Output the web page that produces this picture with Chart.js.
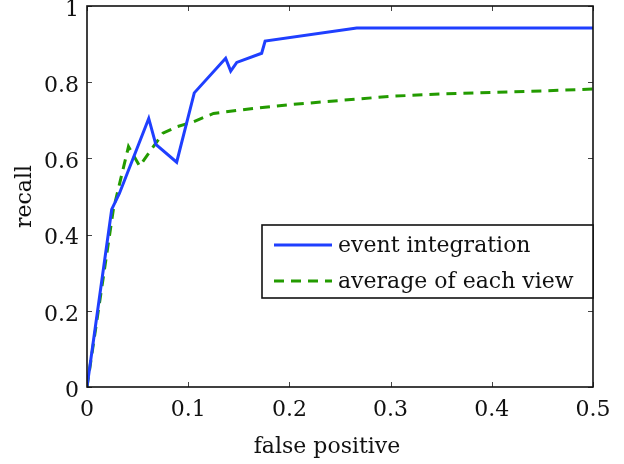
<!DOCTYPE html>
<html>
<head>
<meta charset="utf-8">
<script src="https://cdn.jsdelivr.net/npm/chart.js@4/dist/chart.umd.min.js"></script>
<style>
  html, body { margin: 0; padding: 0; background: #fff; }
  #wrap { width: 624px; height: 464px; }
</style>
</head>
<body>
<div id="wrap"><canvas id="c" width="624" height="464"></canvas></div>
<script>
// ---- data ----
const seriesNames = ['event integration', 'average of each view'];
const eventX = [0, 0.0244, 0.032, 0.061, 0.068, 0.0886, 0.106, 0.137, 0.142, 0.148, 0.1726, 0.176, 0.2665, 0.5];
const eventY = [0, 0.466, 0.508, 0.705, 0.637, 0.590, 0.772, 0.863, 0.829, 0.852, 0.876, 0.908, 0.942, 0.942];
const avgX = [0, 0.026, 0.041, 0.052, 0.075, 0.0886, 0.105, 0.125, 0.158, 0.2, 0.25, 0.3, 0.35, 0.4, 0.45, 0.5];
const avgY = [0, 0.465, 0.631, 0.580, 0.666, 0.683, 0.696, 0.718, 0.729, 0.741, 0.752, 0.763, 0.769, 0.773, 0.777, 0.782];
const xTickLabels = ['0', '0.1', '0.2', '0.3', '0.4', '0.5'];
const yTickLabels = ['0', '0.2', '0.4', '0.6', '0.8', '1'];
const xTitle = 'false positive';
const yTitle = 'recall';

const FONT = 'DejaVu Serif';
const blue = '#1f3fff';
const green = '#239b00';

const toPts = (xs, ys) => xs.map((x, i) => ({ x: x, y: ys[i] }));

const framePlugin = {
  id: 'frame',
  afterDatasetsDraw(chart) {
    const { ctx, chartArea: a, scales } = chart;
    ctx.save();
    ctx.strokeStyle = '#444';
    ctx.lineWidth = 1;
    const tl = 5;
    scales.x.ticks.forEach(t => {
      const px = Math.round(scales.x.getPixelForValue(t.value)) + 0.5;
      ctx.beginPath();
      ctx.moveTo(px, a.bottom); ctx.lineTo(px, a.bottom - tl);
      ctx.moveTo(px, a.top); ctx.lineTo(px, a.top + tl);
      ctx.stroke();
    });
    scales.y.ticks.forEach(t => {
      const py = Math.round(scales.y.getPixelForValue(t.value)) + 0.5;
      ctx.beginPath();
      ctx.moveTo(a.left, py); ctx.lineTo(a.left + tl, py);
      ctx.moveTo(a.right, py); ctx.lineTo(a.right - tl, py);
      ctx.stroke();
    });
    ctx.strokeStyle = '#111';
    ctx.lineWidth = 1.6;
    ctx.strokeRect(a.left, a.top, a.right - a.left, a.bottom - a.top);

    // y tick labels (drawn slightly below the tick, as in the reference)
    ctx.font = '22px "' + FONT + '"';
    ctx.fillStyle = '#111';
    ctx.textAlign = 'right';
    ctx.textBaseline = 'middle';
    scales.y.ticks.forEach((t, i) => {
      ctx.fillText(yTickLabels[i], a.left - 8, scales.y.getPixelForValue(t.value) + 4);
    });
    // x axis title
    ctx.textAlign = 'center';
    ctx.fillText(xTitle, (a.left + a.right) / 2 - 13, a.bottom + 60);
    ctx.restore();
  }
};

const legendPlugin = {
  id: 'boxLegend',
  afterDraw(chart) {
    const { ctx, chartArea: a } = chart;
    const left = a.left + 175, right = a.right, top = a.top + 219, bottom = a.top + 292;
    ctx.save();
    ctx.fillStyle = '#fff';
    ctx.fillRect(left, top, right - left, bottom - top);
    ctx.strokeStyle = '#111';
    ctx.lineWidth = 1.6;
    ctx.strokeRect(left, top, right - left, bottom - top);
    ctx.font = '22px "' + FONT + '"';
    ctx.textBaseline = 'middle';
    ctx.fillStyle = '#111';
    chart.data.datasets.forEach((ds, i) => {
      const y = top + 20 + i * 36;
      ctx.beginPath();
      ctx.strokeStyle = ds.borderColor;
      ctx.lineWidth = ds.borderWidth;
      ctx.setLineDash(ds.borderDash || []);
      ctx.moveTo(left + 12, y); ctx.lineTo(left + 70, y);
      ctx.stroke();
      ctx.setLineDash([]);
      ctx.fillText(ds.label, left + 76, y + 1);
    });
    ctx.restore();
  }
};

new Chart(document.getElementById('c'), {
  type: 'scatter',
  data: {
    datasets: [
      { label: seriesNames[0], data: toPts(eventX, eventY), showLine: true, borderColor: blue, backgroundColor: blue,
        borderWidth: 3, pointRadius: 0, tension: 0 },
      { label: seriesNames[1], data: toPts(avgX, avgY), showLine: true, borderColor: green, backgroundColor: green,
        borderWidth: 3, borderDash: [10, 7], pointRadius: 0, tension: 0 }
    ]
  },
  options: {
    responsive: false,
    animation: false,
    devicePixelRatio: 1,
    layout: { padding: { left: 0, top: 6, right: 31, bottom: 0 } },
    plugins: { legend: { display: false }, tooltip: { enabled: false } },
    scales: {
      x: {
        type: 'linear', min: 0, max: 0.5,
        grid: { display: false, drawTicks: false },
        border: { display: false },
        ticks: { stepSize: 0.1, color: '#111', padding: 10, maxRotation: 0,
          font: { family: FONT, size: 22 },
          callback: (v, i) => xTickLabels[i] },
        title: { display: false },
        afterFit: s => { s.height = 77; s.paddingLeft = 0; s.paddingRight = 0; }
      },
      y: {
        type: 'linear', min: 0, max: 1,
        grid: { display: false, drawTicks: false },
        border: { display: false },
        ticks: { stepSize: 0.2, display: false },
        title: { display: true, text: yTitle, color: '#111', font: { family: FONT, size: 22 },
          padding: { top: 12, bottom: 0 } },
        afterFit: s => { s.width = 87; s.paddingTop = 0; s.paddingBottom = 0; }
      }
    }
  },
  plugins: [framePlugin, legendPlugin]
});
</script>
</body>
</html>
